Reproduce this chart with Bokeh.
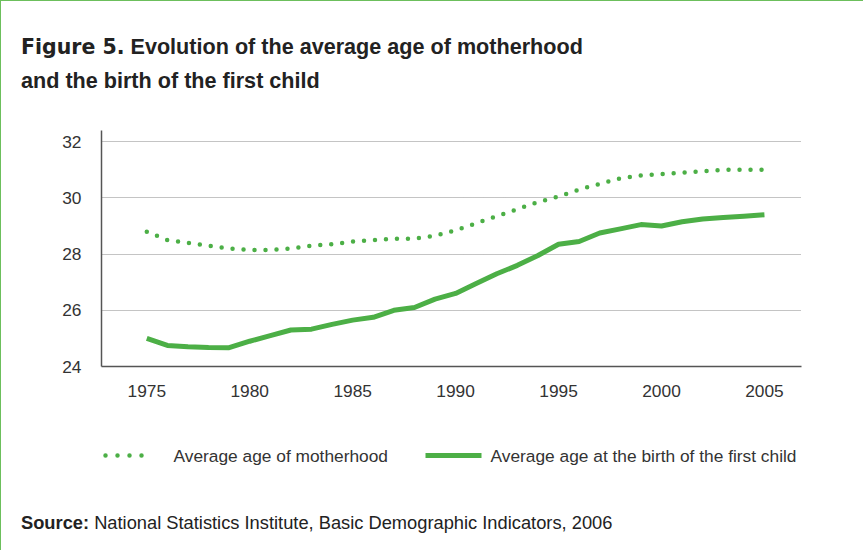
from bokeh.plotting import figure
from bokeh.models import Range1d, FixedTicker, Div
from bokeh.layouts import column
from bokeh.core.properties import value
from bokeh.embed import file_html
from bokeh.resources import INLINE

years = list(range(1975, 2006))
motherhood = [28.8, 28.5, 28.4, 28.3, 28.2, 28.15, 28.15, 28.2, 28.3, 28.35, 28.45,
              28.5, 28.55, 28.55, 28.65, 28.85, 29.1, 29.35, 29.6, 29.85, 30.05,
              30.3, 30.5, 30.7, 30.8, 30.85, 30.9, 30.95, 31.0, 31.0, 31.0]
first_child = [25.0, 24.75, 24.7, 24.68, 24.67, 24.9, 25.1, 25.3, 25.33, 25.5, 25.65,
               25.75, 26.0, 26.1, 26.4, 26.6, 26.95, 27.3, 27.6, 27.95, 28.35,
               28.45, 28.75, 28.9, 29.05, 29.0, 29.15, 29.25, 29.3, 29.35, 29.4]
x_ticks = [1975, 1980, 1985, 1990, 1995, 2000, 2005]
y_ticks = [24, 26, 28, 30, 32]
series_names = ["Average age of motherhood", "Average age at the birth of the first child"]

green = "#4caf46"
FONT = "Liberation Sans"
dotted = dict(line_color=green, line_width=4.5, line_dash="0 11", line_cap="round")
solid = dict(line_color=green, line_width=5)

title = Div(width=852, height=107,
            text='<div style="font-family:\'Liberation Sans\';font-weight:bold;font-size:21.6px;'
                 'line-height:33px;color:#222;padding:24px 0 0 15px;">'
                 '<span style="font-family:\'DejaVu Sans\';font-size:20.5px;">Figure 5.</span> '
                 'Evolution of the average age of motherhood<br>and the birth of the first child</div>')

p = figure(width=852, height=292, output_backend="svg", toolbar_location=None,
           x_range=Range1d(1972.8, 2006.8), y_range=Range1d(24, 32.4),
           min_border_left=100, min_border_right=52, min_border_top=12, min_border_bottom=44)
p.outline_line_color = None

p.line(years, motherhood, **dotted)
p.line(years, first_child, **solid)

p.xaxis.ticker = FixedTicker(ticks=x_ticks)
p.yaxis.ticker = FixedTicker(ticks=y_ticks)
for ax in (p.xaxis[0], p.yaxis[0]):
    ax.axis_line_color = "#555555"
    ax.axis_line_width = 1.5
    ax.major_tick_line_color = None
    ax.minor_tick_line_color = None
    ax.major_label_text_font = FONT
    ax.major_label_text_font_size = "13pt"
    ax.major_label_text_color = "#333333"
p.xaxis.major_label_standoff = 12
p.yaxis.major_label_standoff = 14
p.xgrid.grid_line_color = None
p.ygrid.grid_line_color = "#888888"
p.ygrid.grid_line_dash = "1 1"
p.ygrid.grid_line_width = 1

# hand-drawn legend in a strip below the chart; x range equals canvas pixels of the frame
lg = figure(width=852, height=73, output_backend="svg", toolbar_location=None,
            x_range=Range1d(100, 800), y_range=Range1d(0, 73),
            min_border_left=100, min_border_right=52, min_border_top=0, min_border_bottom=0)
lg.axis.visible = False
lg.grid.grid_line_color = None
lg.outline_line_color = None
lg.line([104, 152], [28, 28], line_color=green, line_width=4.5, line_dash="0 12", line_cap="round")
lg.line([424, 480], [28, 28], **solid)
lg.text(x=[172, 489], y=[28, 28], text=series_names, text_font=value(FONT),
        text_font_size="13pt", text_color="#333333", text_baseline="middle")

source = Div(width=852, height=62,
             text='<div style="font-family:\'Liberation Sans\';font-size:18.3px;color:#222;'
                  'padding:22px 0 0 15px;"><b>Source:</b> National Statistics Institute, '
                  'Basic Demographic Indicators, 2006</div>')

layout = column(title, p, lg, source, spacing=0,
                styles={"border-top": "1.5px solid #6cbf5c", "border-left": "1.5px solid #6cbf5c"})

open("out.html", "w").write(file_html(layout, INLINE))
